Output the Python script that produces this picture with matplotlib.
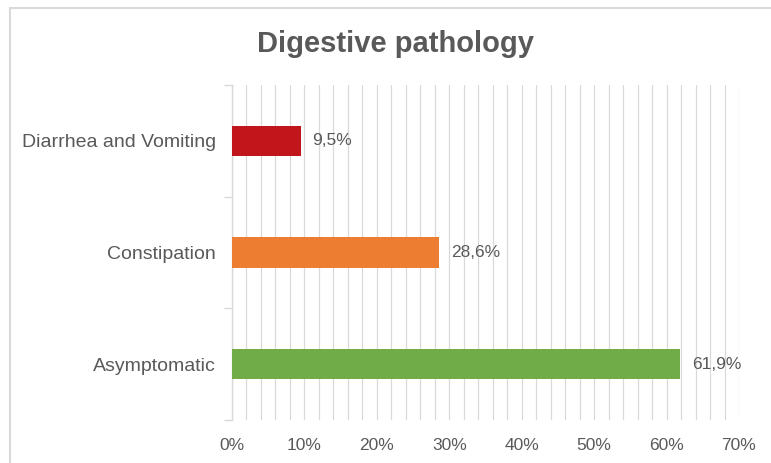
import matplotlib.pyplot as plt
from matplotlib.patches import Rectangle
from matplotlib.ticker import MultipleLocator, FuncFormatter

plt.rcParams['font.family'] = ['Liberation Sans', 'DejaVu Sans']

categories = ['Asymptomatic', 'Constipation', 'Diarrhea and Vomiting']
values = [61.9, 28.6, 9.5]
colors = ['#70AD47', '#ED7D31', '#C0161B']

text_col = '#595959'
grid_col = '#D9D9D9'

fig = plt.figure(figsize=(7.71, 4.63), dpi=100)
fig.patch.set_facecolor('white')

# outer frame of the chart area
fig.patches.append(Rectangle((10 / 771, -0.05), 1.05, (463 - 8) / 463 + 0.05,
                             transform=fig.transFigure, fill=False,
                             edgecolor='#D9D9D9', linewidth=1.5))

ax = fig.add_axes([232 / 771, 43 / 463, 507 / 771, 335 / 463])

y = range(len(categories))
ax.barh(y, values, height=0.27, color=colors, zorder=3)

for yi, v in zip(y, values):
    ax.text(v + 1.6, yi, f'{v:.1f}%'.replace('.', ','), va='center', ha='left',
            fontsize=12.5, color=text_col)

ax.set_xlim(0, 70)
ax.set_ylim(-0.5, len(categories) - 0.5)

ax.xaxis.set_major_locator(MultipleLocator(10))
ax.xaxis.set_minor_locator(MultipleLocator(2))
ax.xaxis.set_major_formatter(FuncFormatter(lambda x, _: f'{x:.0f}%'))
ax.grid(axis='x', which='both', color=grid_col, linewidth=0.9, zorder=0)

ax.set_yticks(list(y))
ax.set_yticklabels(categories)
ax.set_yticks([-0.5, 0.5, 1.5, 2.5], minor=True)
ax.tick_params(axis='y', which='major', length=0, pad=11.5, labelsize=14,
               labelcolor=text_col)
ax.tick_params(axis='y', which='minor', length=6, color=grid_col, width=1)
ax.tick_params(axis='x', which='both', length=0, pad=13, labelsize=12.5,
               labelcolor=text_col)

for side in ['top', 'right', 'bottom']:
    ax.spines[side].set_visible(False)
ax.spines['left'].set_color(grid_col)
ax.spines['left'].set_linewidth(1)

fig.text(396 / 771, 1 - 44 / 463, 'Digestive pathology', ha='center',
         va='center', fontsize=21, fontweight='bold', color=text_col)

fig.savefig('out.png', dpi=100)
